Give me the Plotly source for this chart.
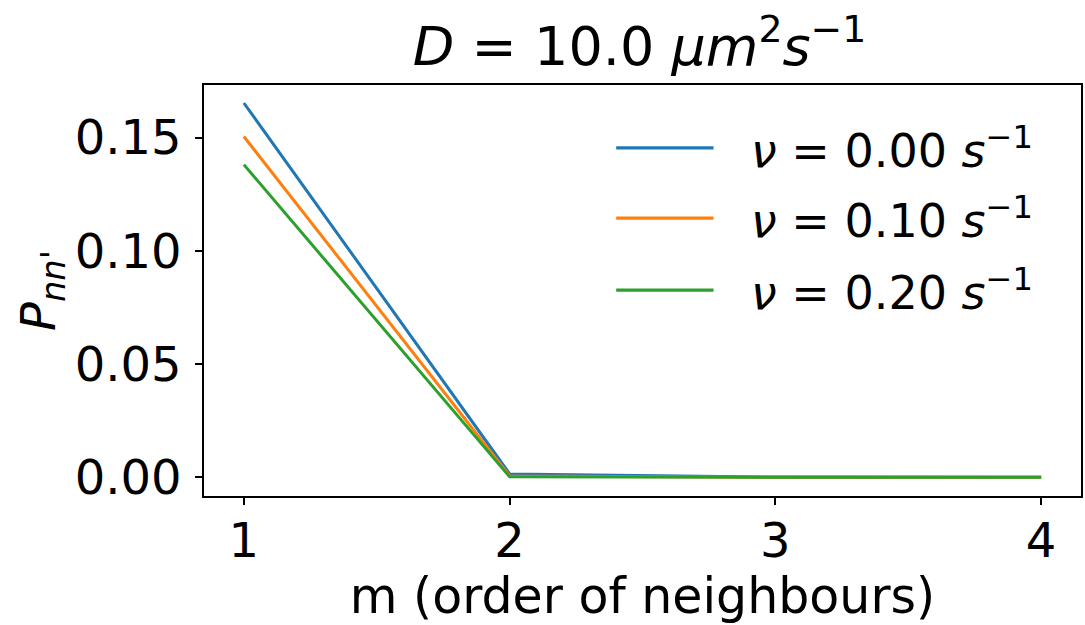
import plotly.graph_objects as go

m_order = [1, 2, 3, 4]
nu_labels = ["0.00", "0.10", "0.20"]
p_nu000 = [0.1653, 0.0015, 0.0001, 0.0]
p_nu010 = [0.1505, 0.0006, 0.0, 0.0]
p_nu020 = [0.1381, 0.0002, 0.0, 0.0]
series = [p_nu000, p_nu010, p_nu020]
colors = ["#1f77b4", "#ff7f0e", "#2ca02c"]
y_ticks = [0.0, 0.05, 0.10, 0.15]

FONT = "DejaVu Sans"
FS = 48

fig = go.Figure()
for lab, vals, col in zip(nu_labels, series, colors):
    fig.add_trace(go.Scatter(x=m_order, y=vals, mode="lines",
                             line=dict(color=col, width=3),
                             name=f"ν = {lab} s⁻¹", showlegend=False))

# manual legend (matplotlib-like long handles)
leg_y = [0.847, 0.676, 0.501]
for lab, col, yy in zip(nu_labels, colors, leg_y):
    fig.add_shape(type="line", xref="paper", yref="paper",
                  x0=0.470, x1=0.581, y0=yy, y1=yy,
                  line=dict(color=col, width=3.2))
    fig.add_annotation(xref="paper", yref="paper", x=0.621, y=yy,
                       xanchor="left", yanchor="middle", showarrow=False,
                       text=f"<i>ν</i> = {lab} <i>s</i><sup>−1</sup>",
                       font=dict(family=FONT, size=FS - 2, color="black"))

axis_common = dict(showline=True, linecolor="black", linewidth=1.5, mirror=True,
                   ticks="outside", ticklen=7, tickwidth=1.5, tickcolor="black",
                   showgrid=False, zeroline=False,
                   tickfont=dict(family=FONT, size=FS, color="black"))

fig.update_layout(
    width=1085, height=625,
    margin=dict(l=204, r=2, t=85, b=129),
    paper_bgcolor="white", plot_bgcolor="white",
    title=dict(text="<i>D</i> = 10.0 <i>μm</i><sup>2</sup><i>s</i><sup>−1</sup>",
               x=0.5895, xanchor="center", y=0.927, yanchor="middle",
               font=dict(family=FONT, size=FS + 6, color="black")),
    xaxis=dict(range=[0.85, 4.15], tickvals=m_order,
               ticktext=[str(v) for v in m_order], ticklabelstandoff=-5,
               title=dict(text="m (order of neighbours)", standoff=11,
                          font=dict(family=FONT, size=FS + 1, color="black")),
               **axis_common),
    yaxis=dict(range=[-0.00825, 0.17325], tickvals=y_ticks,
               ticktext=[f"{v:.2f}" for v in y_ticks], ticklabelstandoff=4,
               title=dict(text="<i>P</i><sub><i>nn</i>'</sub>", standoff=4,
                          font=dict(family=FONT, size=FS, color="black")),
               **axis_common),
)

fig.write_html("out.html", config={"displayModeBar": False},
               post_script="document.body.style.margin='0';document.body.style.overflow='hidden';")
